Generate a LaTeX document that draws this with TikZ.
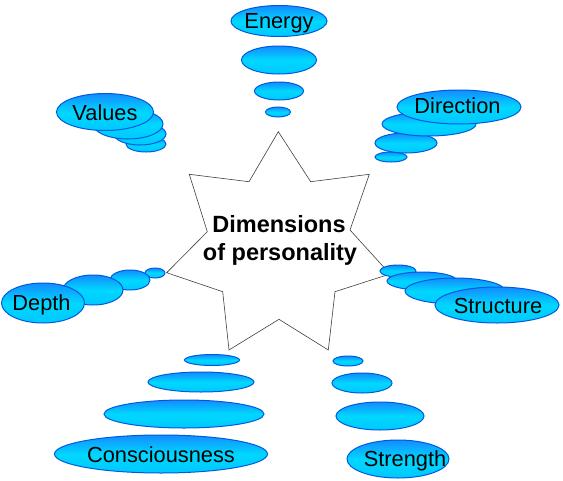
\documentclass[tikz,border=0pt]{standalone}
\usepackage{fontspec}
\setmainfont{Liberation Sans}
\usetikzlibrary{shapes.geometric}
\definecolor{bluetop}{RGB}{20,140,255}
\definecolor{cyanmid}{RGB}{0,215,255}
\definecolor{cyanbot}{RGB}{0,200,255}
\definecolor{edgeblue}{RGB}{0,90,220}
\tikzset{
  blob/.style={ellipse, draw=edgeblue, line width=1pt, top color=bluetop,
    bottom color=cyanbot, middle color=cyanmid, inner sep=0pt, outer sep=0pt},
  lbl/.style={font=\fontsize{21.8}{21.8}\selectfont, text=black, inner sep=0pt, anchor=base},
  ttl/.style={font=\fontsize{23.5}{23.5}\selectfont\bfseries, text=black, inner sep=0pt, anchor=base},
  starline/.style={draw=black!75, line width=0.6pt, fill=white},
}
\newcommand{\blobat}[5]{\node[blob, minimum width=#4, minimum height=#5] (#1) at (#2,#3) {};}
\begin{document}
\begin{tikzpicture}[x=1pt,y=-1pt]
\useasboundingbox (0,0) rectangle (563,480);
\fill[white] (0,0) rectangle (563,480);

% central star
\draw[starline] (278.3,131.7) -- (310.7,181.7) -- (369.3,174.3) -- (350,230)
  -- (390,274) -- (335,291.7) -- (328.3,350) -- (279,319.3) -- (229,350)
  -- (222.7,291.7) -- (166.7,272.7) -- (207.3,231.7) -- (189.3,174.3)
  -- (249,181.7) -- cycle;
\node[ttl] (title1) at (279,232) {Dimensions};
\node[ttl] (title2) at (280,260) {of personality};

% Energy
\blobat{en4}{278}{112}{25}{10}
\blobat{en3}{279}{91}{49}{18}
\blobat{en2}{279}{60}{75}{28}
\blobat{en1}{279}{21}{96}{31}
\node[lbl] (tEnergy) at (279,28) {Energy};

% Values
\blobat{va4}{146}{144}{40}{16}
\blobat{va3}{140}{134}{52}{22}
\blobat{va2}{128}{124}{70}{30}
\blobat{va1}{105}{112}{97}{37}
\node[lbl] (tValues) at (105,120) {Values};

% Direction
\blobat{di4}{391}{157}{32}{10}
\blobat{di3}{406}{143}{62}{20}
\blobat{di2}{429}{124}{94}{24}
\blobat{di1}{459}{107}{124}{34}
\node[lbl] (tDirection) at (457.5,113) {Direction};

% Depth
\blobat{de4}{155}{273}{20}{10}
\blobat{de3}{130}{280}{40}{20}
\blobat{de2}{93}{290}{60}{30}
\blobat{de1}{43}{303}{83}{40}
\node[lbl] (tDepth) at (41.5,310) {Depth};

% Structure
\blobat{st4}{398}{271}{36}{12}
\blobat{st3}{422}{281}{70}{18}
\blobat{st2}{455}{291}{100}{26}
\blobat{st1}{497}{305}{124}{36}
\node[lbl] (tStructure) at (498,313) {Structure};

% Consciousness
\blobat{co4}{212}{360}{55}{11}
\blobat{co3}{201}{382}{106}{20}
\blobat{co2}{184}{414}{160}{28}
\blobat{co1}{161}{454}{213}{38}
\node[lbl] (tConsciousness) at (161,462) {Consciousness};

% Strength
\blobat{sg4}{348}{361}{30}{10}
\blobat{sg3}{362}{383}{60}{20}
\blobat{sg2}{380}{416}{88}{28}
\blobat{sg1}{398}{459}{102}{38}
\node[lbl] (tStrength) at (405,466) {Strength};
\end{tikzpicture}
\end{document}
